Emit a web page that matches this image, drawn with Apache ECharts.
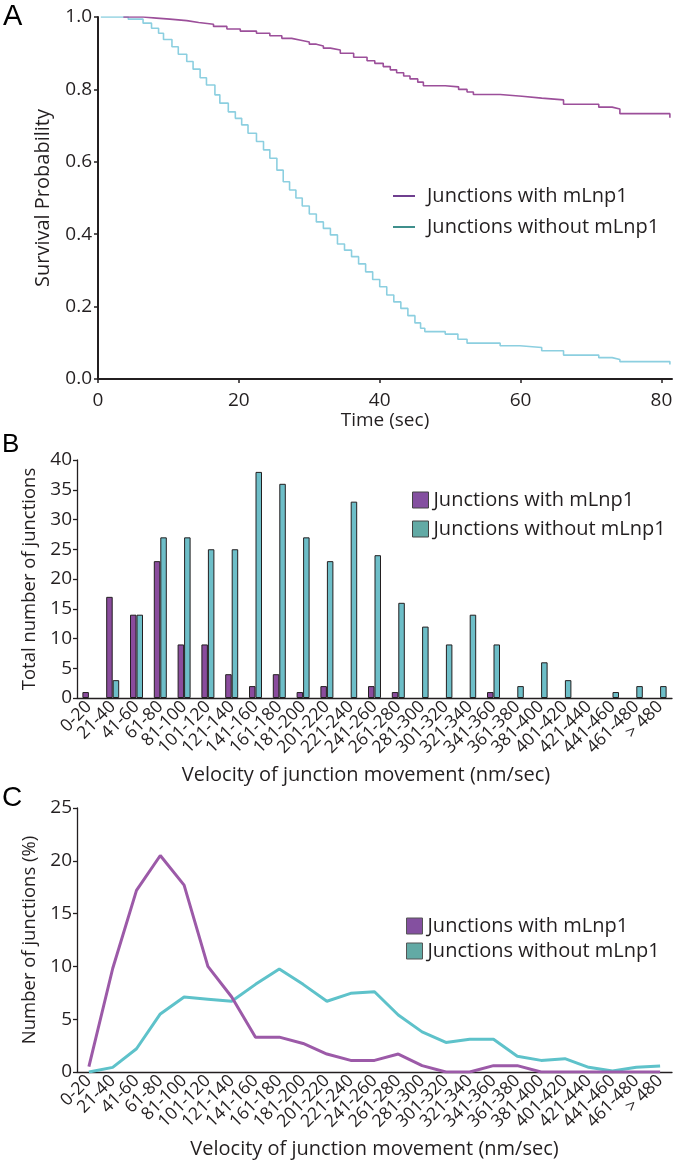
<!DOCTYPE html>
<html><head><meta charset="utf-8">
<script src="https://cdn.jsdelivr.net/npm/echarts@6/dist/echarts.min.js"></script>
<style>html,body{margin:0;padding:0;background:#fff}#c{width:676px;height:1163px}</style>
</head><body><div id="c"></div>
<script>
const seriesNames = ['Junctions with mLnp1', 'Junctions without mLnp1'];

// Panel A: Kaplan-Meier style survival (time of step, new probability)
const survTimeWith = [3.6, 6.4, 8.3, 10.2, 12.6, 14.3, 16.4, 18.3, 20.2, 22.5, 24.4, 26.1, 27.5, 28.8, 30.0, 31.0, 32.0, 33.0, 34.4, 36.3, 38.2, 39.3, 40.5, 41.5, 42.4, 43.4, 44.3, 45.4, 46.2, 49.3, 51.2, 52.4, 53.3, 57.1, 60.2, 63.0, 66.1, 71.1, 73.0, 74.1, 81.2, 81.2];
const survProbWith = [1.0, 0.997, 0.994, 0.990, 0.985, 0.980, 0.974, 0.967, 0.961, 0.955, 0.948, 0.941, 0.936, 0.931, 0.925, 0.920, 0.914, 0.909, 0.900, 0.889, 0.879, 0.872, 0.863, 0.854, 0.846, 0.837, 0.829, 0.820, 0.810, 0.807, 0.800, 0.793, 0.786, 0.781, 0.776, 0.771, 0.759, 0.751, 0.746, 0.733, 0.733, 0.722];
const survTimeWithout = [0.4, 4.3, 6.4, 7.6, 8.6, 9.3, 10.5, 11.4, 12.6, 13.5, 14.5, 15.4, 16.6, 17.3, 18.5, 19.5, 20.4, 21.3, 22.5, 23.5, 24.4, 25.4, 26.3, 27.2, 28.1, 29.0, 30.0, 31.0, 32.0, 33.0, 34.0, 35.0, 36.0, 37.0, 38.0, 39.0, 40.0, 41.0, 42.0, 43.0, 44.0, 45.0, 45.8, 46.4, 49.3, 51.1, 52.4, 57.1, 59.9, 63.0, 66.1, 71.1, 73.0, 74.1, 81.2, 81.2];
const survProbWithout = [1.0, 0.994, 0.983, 0.969, 0.955, 0.938, 0.918, 0.897, 0.877, 0.856, 0.832, 0.812, 0.785, 0.762, 0.738, 0.720, 0.702, 0.679, 0.656, 0.633, 0.610, 0.577, 0.545, 0.522, 0.500, 0.478, 0.456, 0.434, 0.416, 0.398, 0.373, 0.356, 0.338, 0.318, 0.296, 0.275, 0.255, 0.232, 0.213, 0.195, 0.175, 0.155, 0.140, 0.131, 0.124, 0.110, 0.099, 0.092, 0.087, 0.078, 0.066, 0.059, 0.054, 0.048, 0.048, 0.040];
const timeTicks = [0, 20, 40, 60, 80];

// Panels B and C
const velocityBins = ['0-20','21-40','41-60','61-80','81-100','101-120','121-140','141-160','161-180','181-200','201-220','221-240','241-260','261-280','281-300','301-320','321-340','341-360','361-380','381-400','401-420','421-440','441-460','461-480','> 480'];
const countWith    = [1, 17, 14, 23, 9, 9, 4, 2, 4, 1, 2, 0, 2, 1, 0, 0, 0, 1, 0, 0, 0, 0, 0, 0, 0];
const countWithout = [0, 3, 14, 27, 27, 25, 25, 38, 36, 27, 23, 33, 24, 16, 12, 9, 14, 9, 2, 6, 3, 0, 1, 2, 2];
const pctWith    = [0.5, 9.8, 17.2, 20.5, 17.7, 10.0, 7.1, 3.3, 3.3, 2.7, 1.7, 1.1, 1.1, 1.7, 0.6, 0, 0, 0.6, 0.6, 0, 0, 0, 0, 0, 0];
const pctWithout = [0, 0.44, 2.2, 5.5, 7.1, 6.9, 6.7, 8.3, 9.75, 8.3, 6.7, 7.45, 7.6, 5.4, 3.8, 2.8, 3.1, 3.1, 1.5, 1.1, 1.26, 0.44, 0.1, 0.44, 0.57];

const INK = '#231f20';
const FONT = '"Open Sans", "Noto Sans", sans-serif';
const zip = (a, b) => a.map((v, i) => [v, b[i]]);
const hideZero = arr => arr.map(v => (v === 0 ? null : v)); // empty bins draw no bar

const chart = echarts.init(document.getElementById('c'), null, {renderer: 'canvas'});

const catAxis = (gridIndex, name, namePad) => ({
  type: 'category', gridIndex, data: velocityBins, boundaryGap: true,
  axisLine: {lineStyle: {color: INK, width: 1.3}},
  axisTick: {length: 5, lineStyle: {color: INK, width: 1.3}},
  axisLabel: {interval: 0, rotate: 45, fontSize: 17.5, color: INK, fontFamily: FONT, margin: 6, hideOverlap: false},
  name, nameLocation: 'middle', nameGap: 67, nameMoveOverlap: false,
  nameTextStyle: {fontSize: 20, color: INK, fontFamily: FONT, padding: namePad}
});

const option = {
  animation: false,
  backgroundColor: '#fff',
  textStyle: {fontFamily: FONT},
  grid: [
    {left: 98, top: 17, width: 574, height: 362, outerBoundsMode: 'none'},
    {left: 77, top: 460, width: 595, height: 238, outerBoundsMode: 'none'},
    {left: 77, top: 808, width: 595, height: 264, outerBoundsMode: 'none'}
  ],
  xAxis: [
    {
      type: 'value', gridIndex: 0, min: 0, max: 81.5,
      axisLine: {lineStyle: {color: INK, width: 2}},
      axisTick: {length: 4, customValues: timeTicks, lineStyle: {color: INK, width: 1.5}},
      axisLabel: {customValues: timeTicks, fontSize: 19, color: INK, fontFamily: FONT, margin: 12},
      splitLine: {show: false},
      name: 'Time (sec)', nameLocation: 'middle', nameGap: 32,
      nameTextStyle: {fontSize: 19, color: INK, fontFamily: FONT}
    },
    catAxis(1, 'Velocity of junction movement (nm/sec)', [0, 17, 0, 0]),
    catAxis(2, 'Velocity of junction movement (nm/sec)', [0, 0, 0, 0])
  ],
  yAxis: [
    {
      type: 'value', gridIndex: 0, min: 0, max: 1, interval: 0.2,
      axisLine: {show: true, lineStyle: {color: INK, width: 2}},
      axisTick: {show: true, length: 4, lineStyle: {color: INK, width: 1.5}},
      axisLabel: {fontSize: 19, color: INK, fontFamily: FONT, margin: 6, formatter: v => v.toFixed(1)},
      splitLine: {show: false},
      name: 'Survival Probability', nameLocation: 'middle', nameGap: 45,
      nameTextStyle: {fontSize: 20, color: INK, fontFamily: FONT}
    },
    {
      type: 'value', gridIndex: 1, min: 0, max: 40, interval: 5,
      axisLine: {show: true, lineStyle: {color: INK, width: 1.3}},
      axisTick: {show: true, length: 4, lineStyle: {color: INK, width: 1.3}},
      axisLabel: {fontSize: 19, color: INK, fontFamily: FONT, margin: 5},
      splitLine: {show: false},
      name: 'Total number of junctions', nameLocation: 'middle', nameGap: 37,
      nameTextStyle: {fontSize: 18.5, color: INK, fontFamily: FONT}
    },
    {
      type: 'value', gridIndex: 2, min: 0, max: 25, interval: 5,
      axisLine: {show: true, lineStyle: {color: INK, width: 1.3}},
      axisTick: {show: true, length: 4, lineStyle: {color: INK, width: 1.3}},
      axisLabel: {fontSize: 19, color: INK, fontFamily: FONT, margin: 5},
      splitLine: {show: false},
      name: 'Number of junctions (%)', nameLocation: 'middle', nameGap: 35,
      nameTextStyle: {fontSize: 18.5, color: INK, fontFamily: FONT}
    }
  ],
  legend: [
    {
      orient: 'vertical', left: 393, top: 186, padding: 0, itemGap: 11, icon: 'rect',
      itemWidth: 22, itemHeight: 2, selectedMode: false,
      textStyle: {fontSize: 20, color: INK, fontFamily: FONT, padding: [0, 0, 0, 7]},
      data: [
        {name: seriesNames[0], itemStyle: {color: '#6f3f8f', borderWidth: 0}},
        {name: seriesNames[1], itemStyle: {color: '#3f8f8c', borderWidth: 0}}
      ]
    },
    {
      orient: 'vertical', left: 412, top: 490, padding: 0, itemGap: 9, icon: 'rect',
      itemWidth: 16, itemHeight: 16, selectedMode: false,
      textStyle: {fontSize: 20, color: INK, fontFamily: FONT},
      data: [
        {name: seriesNames[0], itemStyle: {color: '#8450a0', borderColor: '#444', borderWidth: 1}},
        {name: seriesNames[1], itemStyle: {color: '#62aaa5', borderColor: '#444', borderWidth: 1}}
      ]
    },
    {
      orient: 'vertical', left: 406, top: 916, padding: 0, itemGap: 5, icon: 'rect',
      itemWidth: 16, itemHeight: 16, selectedMode: false,
      textStyle: {fontSize: 20, color: INK, fontFamily: FONT},
      data: [
        {name: seriesNames[0], itemStyle: {color: '#8450a0', borderColor: '#555', borderWidth: 1}},
        {name: seriesNames[1], itemStyle: {color: '#62aaa5', borderColor: '#555', borderWidth: 1}}
      ]
    }
  ],
  graphic: [
    {type: 'text', left: 3, top: 2, style: {text: 'A', fontSize: 29, fill: '#000', fontFamily: '"Liberation Sans", Arial, sans-serif'}},
    {type: 'text', left: 2, top: 432, style: {text: 'B', fontSize: 26, fill: '#000', fontFamily: '"Liberation Sans", Arial, sans-serif'}},
    {type: 'text', left: 2, top: 784, style: {text: 'C', fontSize: 28, fill: '#000', fontFamily: '"Liberation Sans", Arial, sans-serif'}}
  ],
  series: [
    {name: seriesNames[0], type: 'line', step: 'end', xAxisIndex: 0, yAxisIndex: 0, symbol: 'none',
     data: zip(survTimeWith, survProbWith), lineStyle: {width: 1.6, color: '#9c4f9a'}, itemStyle: {color: '#9c4f9a'}, z: 3},
    {name: seriesNames[1], type: 'line', step: 'end', xAxisIndex: 0, yAxisIndex: 0, symbol: 'none',
     data: zip(survTimeWithout, survProbWithout), lineStyle: {width: 1.6, color: '#8ccfe0'}, itemStyle: {color: '#8ccfe0'}, z: 2},
    {name: seriesNames[0], type: 'bar', xAxisIndex: 1, yAxisIndex: 1, data: hideZero(countWith), barWidth: 6.5, barGap: '0%',
     itemStyle: {color: '#8a4c9d', borderColor: INK, borderWidth: 1}},
    {name: seriesNames[1], type: 'bar', xAxisIndex: 1, yAxisIndex: 1, data: hideZero(countWithout), barWidth: 6.5, barGap: '0%',
     itemStyle: {color: '#6dbec8', borderColor: INK, borderWidth: 1}},
    {name: seriesNames[0], type: 'line', xAxisIndex: 2, yAxisIndex: 2, symbol: 'none', data: pctWith,
     lineStyle: {width: 3, color: '#9c5aa8'}, itemStyle: {color: '#9c5aa8'}, z: 3},
    {name: seriesNames[1], type: 'line', xAxisIndex: 2, yAxisIndex: 2, symbol: 'none', data: pctWithout,
     lineStyle: {width: 3, color: '#5ec2ca'}, itemStyle: {color: '#5ec2ca'}, z: 2}
  ]
};
chart.setOption(option);
</script>
</body></html>
